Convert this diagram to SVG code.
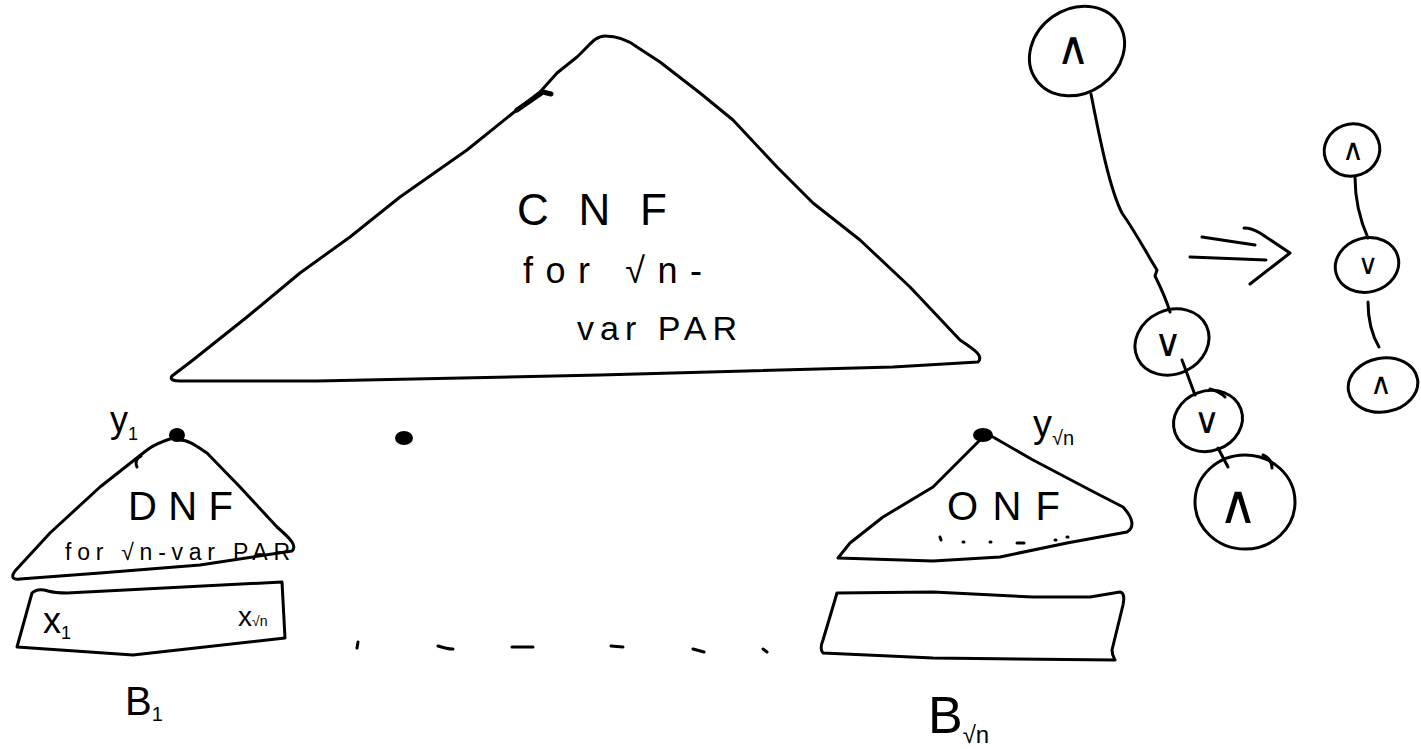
<svg xmlns="http://www.w3.org/2000/svg" width="1421" height="749" viewBox="0 0 1421 749">
<style>
.s{fill:none;stroke:#000;stroke-width:3;stroke-linecap:round;stroke-linejoin:round}
.t{font-family:"Liberation Sans",Arial,sans-serif;fill:#000}
.g{font-family:"DejaVu Sans",sans-serif;fill:#000;text-anchor:middle}
.d{fill:#000}
</style>
<rect width="1421" height="749" fill="#fff"/>
<g id="cnf">
<path class="s" d="M605,36 C595,36 590,45 577,57 L557,73 L540,92 L513,113 L467,150 L400,197 L350,237 L300,273 L247,317 L193,360 L172,376 C169,380 175,381 180,381 L317,381 L600,375 L893,367 L978,362 C984,356 975,350 960,340 L910,287 L860,240 L813,203 L777,167 L733,120 L700,93 L660,62 L637,47 C625,38 615,36 605,36 Z"/>
<path class="s" style="stroke-width:5" d="M517,110 L543,92 L551,94"/>
<text class="t" x="517" y="225" font-size="44" textLength="150" lengthAdjust="spacing">CNF</text>
<text class="t" x="523" y="283" font-size="36" textLength="179" lengthAdjust="spacing">for √n-</text>
<text class="t" x="577" y="340" font-size="34" textLength="160" lengthAdjust="spacing">var PAR</text>
</g>
<g id="dnf1">
<ellipse class="d" cx="177" cy="435" rx="8" ry="7"/>
<path class="s" d="M173,438 C160,442 152,446 147,450 L100,487 L50,533 L15,571 C10,578 14,580 20,579 L100,573 L200,565 L292,551 C297,546 292,540 277,527 L240,487 L207,453 C195,445 188,440 180,440"/>
<path class="s" d="M141,456 C136,458 135,463 137,467"/>
<text class="t" x="110" y="432" font-size="36">y<tspan font-size="18" dy="8">1</tspan></text>
<text class="t" x="128" y="520" font-size="40" textLength="105" lengthAdjust="spacing">DNF</text>
<text class="t" x="65" y="560" font-size="23" textLength="225" lengthAdjust="spacing">for √n-var PAR</text>
</g>
<g id="box1">
<path class="s" d="M32,593 C36,589 42,589 48,591 C55,593 60,593 67,593 L282,582 L285,638 L133,655 L17,647 Z"/>
<text class="t" x="43" y="633" font-size="36">x<tspan font-size="18" dy="6">1</tspan></text>
<text class="t" x="238" y="626" font-size="28">x<tspan font-size="14">√n</tspan></text>
<text class="t" x="125" y="715" font-size="40">B<tspan font-size="20" dy="6">1</tspan></text>
</g>
<g id="middots">
<ellipse class="d" cx="404" cy="438" rx="9" ry="7"/>
<path class="s" d="M358,642 L357,648 M438,646 C444,648 448,649 453,649 M512,647 L533,647 M611,646 L623,647 M693,649 L704,652 M763,649 L767,652"/>
</g>
<g id="dnf2">
<ellipse class="d" cx="983" cy="435" rx="10" ry="7"/>
<path class="s" d="M980,440 L933,487 L883,517 L850,543 L838,558 L933,561 L1000,557 L1067,543 L1127,532 C1135,527 1133,518 1123,507 L1090,490 L1033,460 L993,437"/>
<path class="s" d="M940,537 L941,540 M963,542 L964,542 M990,542 L991,542 M1017,543 L1024,543 M1055,540 L1056,540 M1067,537 L1068,537"/>
<text class="t" x="1033" y="437" font-size="38">y<tspan font-size="20" dy="8">√n</tspan></text>
<text class="t" x="947" y="520" font-size="40" textLength="113" lengthAdjust="spacing">ONF</text>
</g>
<g id="box2">
<path class="s" d="M837,593 L933,592 L1033,597 L1090,597 L1120,592 C1125,593 1124,600 1123,605 L1112,650 C1112,655 1114,658 1115,660 L933,658 L823,653 C820,650 821,645 823,640 Z"/>
<text class="t" x="928" y="733" font-size="52">B<tspan font-size="24" dy="10">√n</tspan></text>
</g>
<g id="n-and-top">
<ellipse class="s" cx="1077" cy="51" rx="50" ry="42" transform="rotate(-35 1077 51)"/>
<text class="g" x="1073" y="64" font-size="46">∧</text>
</g>
<g id="n-or-1">
<ellipse class="s" cx="1172" cy="342" rx="38" ry="32" transform="rotate(-25 1172 342)"/>
<text class="g" x="1168" y="356" font-size="38">∨</text>
</g>
<g id="n-or-2">
<ellipse class="s" cx="1208" cy="421" rx="35" ry="30" transform="rotate(-20 1208 421)"/>
<path class="s" d="M1210,389 C1218,391 1222,394 1225,397"/>
<text class="g" x="1207" y="433" font-size="36">∨</text>
</g>
<g id="n-and-bot">
<ellipse class="s" cx="1245" cy="502" rx="50" ry="47"/>
<path class="s" d="M1263,455 C1270,458 1272,463 1272,468"/>
<text class="g" x="1238" y="523" font-size="54">∧</text>
</g>
<g id="m-and-top">
<ellipse class="s" cx="1352" cy="150" rx="28" ry="26" transform="rotate(-20 1352 150)"/>
<text class="g" x="1353" y="160" font-size="30">∧</text>
</g>
<g id="m-or">
<ellipse class="s" cx="1367" cy="265" rx="32" ry="27" transform="rotate(-15 1367 265)"/>
<text class="g" x="1368" y="274" font-size="28">∨</text>
</g>
<g id="m-and-bot">
<ellipse class="s" cx="1383" cy="385" rx="35" ry="27" transform="rotate(-10 1383 385)"/>
<text class="g" x="1381" y="394" font-size="30">∧</text>
</g>
<g id="connectors">
<path class="s" d="M1091,94 C1100,140 1110,190 1122,213 C1138,236 1148,256 1157,270 L1155,276 C1162,290 1167,302 1170,312"/>
<path class="s" d="M1182,360 L1195,395"/>
<path class="s" d="M1218,448 L1228,467"/>
<path class="s" d="M1355,177 C1355,200 1360,220 1368,238"/>
<path class="s" d="M1368,302 C1368,320 1372,335 1379,347"/>
<path class="s" d="M1202,237 L1255,245 M1190,257 L1266,260 M1244,228 C1250,228 1255,230 1260,233 L1290,253 L1250,284"/>
</g>
</svg>
